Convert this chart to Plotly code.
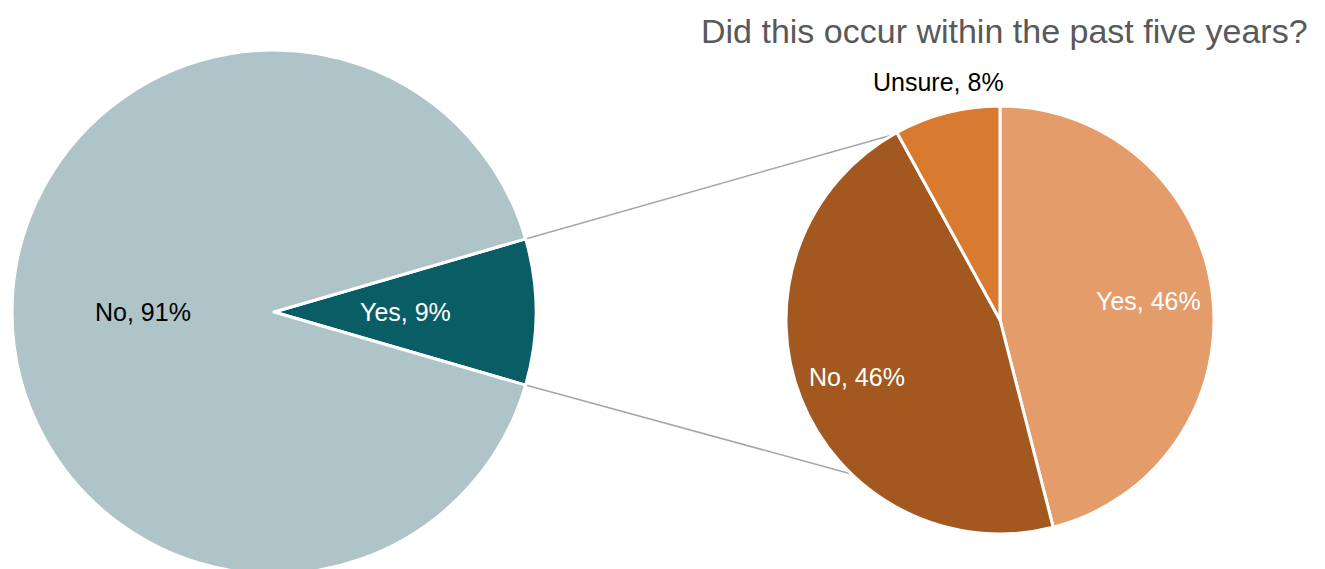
import math
import plotly.graph_objects as go

# Data
main_labels = ["Yes", "No"]
main_values = [9, 91]
sub_labels = ["Yes", "No", "Unsure"]
sub_values = [46, 46, 8]
title_text = "Did this occur within the past five years?"

# Figure geometry (pixels)
W, H = 1325, 569
OFF = 8  # page body margin added by the browser
FONT = "Liberation Sans, Arial, sans-serif"
LABEL_SIZE = 25

# pie centres / radii in screen pixels
left_c, left_r = (274, 312), 262
right_c, right_r = (1000, 320), 214


def pie_domain(c, r):
    cx, cy = c[0] - OFF, c[1] - OFF
    return dict(x=[(cx - r) / W, (cx + r) / W],
                y=[max(0, 1 - (cy + r) / H), 1 - (cy - r) / H])


def to_paper(x, y):
    return (x - OFF) / W, 1 - (y - OFF) / H


def mid_angles(values, rotation):
    # clockwise from 12 o'clock, returned as maths angles (deg)
    total = sum(values)
    out, start = [], rotation
    for v in values:
        span = v / total * 360
        out.append(90 - (start + span / 2))
        start += span
    return out


yes_share = main_values[0] / sum(main_values)
half_angle = yes_share * 360 / 2
main_rotation = 90 - half_angle
sub_rotation = 0

main_pie = go.Pie(
    labels=main_labels,
    values=main_values,
    sort=False,
    direction="clockwise",
    rotation=main_rotation,
    marker=dict(colors=["#095E66", "#AFC4C8"], line=dict(color="white", width=3)),
    textinfo="none",
    hoverinfo="label+percent",
    domain=pie_domain(left_c, left_r),
    showlegend=False,
)

sub_pie = go.Pie(
    labels=sub_labels,
    values=sub_values,
    sort=False,
    direction="clockwise",
    rotation=sub_rotation,
    marker=dict(colors=["#E39C6A", "#A35820", "#D97A31"], line=dict(color="white", width=3)),
    textinfo="none",
    hoverinfo="label+percent",
    domain=pie_domain(right_c, right_r),
    showlegend=False,
)

fig = go.Figure(data=[main_pie, sub_pie])

# data labels along each slice's bisector
label_specs = [
    (left_c, left_r, main_labels, main_values, main_rotation, [0.5, 0.5], ["white", "black"]),
    (right_c, right_r, sub_labels, sub_values, sub_rotation, [0.7, 0.72, 1.15], ["white", "white", "black"]),
]
for c, r, labels, values, rot, fracs, colors in label_specs:
    total = sum(values)
    for lab, v, ang, f, col in zip(labels, values, mid_angles(values, rot), fracs, colors):
        a = math.radians(ang)
        px, py = to_paper(c[0] + f * r * math.cos(a), c[1] - f * r * math.sin(a))
        fig.add_annotation(
            text=f"{lab}, {round(v / total * 100)}%",
            xref="paper", yref="paper", x=px, y=py,
            xanchor="center", yanchor="middle", showarrow=False,
            font=dict(family=FONT, size=LABEL_SIZE, color=col),
        )

# connector lines between the Yes slice and the breakdown pie
for sign, end_angle in [(1, 120), (-1, 226)]:
    a = math.radians(sign * half_angle)
    b = math.radians(end_angle)
    x0, y0 = to_paper(left_c[0] + left_r * math.cos(a), left_c[1] - left_r * math.sin(a))
    x1, y1 = to_paper(right_c[0] + right_r * math.cos(b), right_c[1] - right_r * math.sin(b))
    fig.add_shape(
        type="line", xref="paper", yref="paper",
        x0=x0, y0=y0, x1=x1, y1=y1,
        line=dict(color="#A6A6A6", width=1.5),
        layer="below",
    )

tx, ty = to_paper(1310, 10)
fig.add_annotation(
    text=title_text,
    xref="paper", yref="paper", x=tx, y=ty,
    xanchor="right", yanchor="top",
    showarrow=False,
    font=dict(family=FONT, size=34, color="#595959"),
)

fig.update_layout(
    width=W, height=H,
    margin=dict(l=0, r=0, t=0, b=0),
    paper_bgcolor="white",
    plot_bgcolor="white",
    font=dict(family=FONT),
)

fig.write_html("out.html")
